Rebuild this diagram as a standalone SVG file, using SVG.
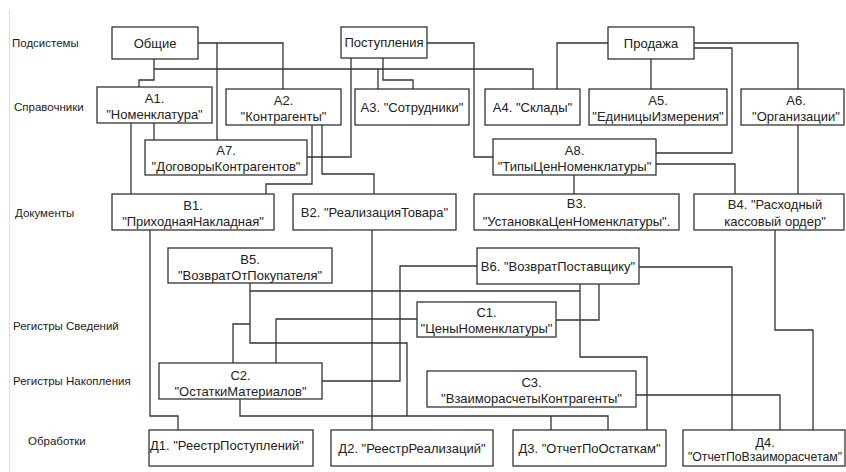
<svg xmlns="http://www.w3.org/2000/svg" width="846" height="472" viewBox="0 0 846 472">
<style>
.b{fill:#fff;stroke:#333;stroke-width:1.3}
.t{font-family:"Liberation Sans",Arial,sans-serif;font-size:13px;fill:#222;text-anchor:middle}
.l{font-family:"Liberation Sans",Arial,sans-serif;font-size:11.5px;fill:#222}
.c{fill:none;stroke:#333;stroke-width:1.3}
</style>
<rect width="846" height="472" fill="#fff"/>
<line x1="9.5" y1="10" x2="9.5" y2="472" stroke="#ddd" stroke-width="1"/>
<g id="labels">
<text class="l" x="12" y="47">Подсистемы</text>
<text class="l" x="14" y="111">Справочники</text>
<text class="l" x="15" y="217">Документы</text>
<text class="l" x="13" y="330">Регистры Сведений</text>
<text class="l" x="13" y="385">Регистры Накопления</text>
<text class="l" x="28" y="445">Обработки</text>
</g>
<g id="connectors">
<path class="c" d="M154,59 V80 H139 V87"/>
<path class="c" d="M154,69 H533 V89 M378,69 V89"/>
<path class="c" d="M198,43 H283 V89"/>
<path class="c" d="M217,43 V140"/>
<path class="c" d="M154,123 V140"/>
<path class="c" d="M131,123 V194"/>
<path class="c" d="M312,125 V184 H266 V194"/>
<path class="c" d="M322,125 V174 H374 V194"/>
<path class="c" d="M351,58 V157 H307"/>
<path class="c" d="M383,58 V80 H413 V89"/>
<path class="c" d="M427,43 H474 V157 H493"/>
<path class="c" d="M608,43 H557 V89"/>
<path class="c" d="M651,59 V89"/>
<path class="c" d="M694,43 H798 V89"/>
<path class="c" d="M694,48 H732 V153 H656"/>
<path class="c" d="M574,175 V194"/>
<path class="c" d="M656,164 H735 V194"/>
<path class="c" d="M798,125 V194"/>
<path class="c" d="M150,230 V416 H178 V430"/>
<path class="c" d="M372,230 V430"/>
<path class="c" d="M775,230 V330 H813 V430"/>
<path class="c" d="M250,283 V343 H407 V416 M250,291 H580"/>
<path class="c" d="M580,284 V357 H647 V430"/>
<path class="c" d="M599,284 V320 H556"/>
<path class="c" d="M477,266 H400 V381 H322"/>
<path class="c" d="M639,267 H732 V430"/>
<path class="c" d="M417,319 H276 V363"/>
<path class="c" d="M233,363 V324 H250"/>
<path class="c" d="M240,399 V416 H608 V430 M551,416 V430"/>
<path class="c" d="M636,395 H780 V430"/>
</g>
<g id="obshie"><rect class="b" x="112" y="27" width="86" height="32"/><text class="t" x="155" y="48">Общие</text></g>
<g id="postupleniya"><rect class="b" x="341" y="27" width="86" height="31"/><text class="t" x="384" y="47">Поступления</text></g>
<g id="prodazha"><rect class="b" x="608" y="27" width="86" height="32"/><text class="t" x="651" y="48">Продажа</text></g>
<g id="A1"><rect class="b" x="97" y="87" width="115" height="36"/><text class="t" x="154.5" y="103">A1.</text><text class="t" x="154.5" y="119">"Номенклатура"</text></g>
<g id="A2"><rect class="b" x="226" y="89" width="115" height="36"/><text class="t" x="283.5" y="105">A2.</text><text class="t" x="283.5" y="121">"Контрагенты"</text></g>
<g id="A3"><rect class="b" x="355" y="89" width="114" height="36"/><text class="t" x="412" y="112">A3. "Сотрудники"</text></g>
<g id="A4"><rect class="b" x="485" y="89" width="95" height="36"/><text class="t" x="532.5" y="112">A4. "Склады"</text></g>
<g id="A5"><rect class="b" x="589" y="89" width="138" height="36"/><text class="t" x="658" y="105">A5.</text><text class="t" x="658" y="121">"ЕдиницыИзмерения"</text></g>
<g id="A6"><rect class="b" x="741" y="89" width="103" height="36"/><text class="t" x="796" y="105">A6.</text><text class="t" x="796" y="121">"Организации"</text></g>
<g id="A7"><rect class="b" x="145" y="140" width="162" height="35"/><text class="t" x="226" y="155">A7.</text><text class="t" x="226" y="171">"ДоговорыКонтрагентов"</text></g>
<g id="A8"><rect class="b" x="493" y="139" width="163" height="36"/><text class="t" x="574.5" y="155">A8.</text><text class="t" x="574.5" y="171">"ТипыЦенНоменклатуры"</text></g>
<g id="B1"><rect class="b" x="112" y="194" width="162" height="36"/><text class="t" x="193" y="210">B1.</text><text class="t" x="193" y="226">"ПриходнаяНакладная"</text></g>
<g id="B2"><rect class="b" x="293" y="194" width="163" height="36"/><text class="t" x="374.5" y="217">B2. "РеализацияТовара"</text></g>
<g id="B3"><rect class="b" x="474" y="194" width="205" height="36"/><text class="t" x="576.5" y="208">B3.</text><text class="t" x="576.5" y="226">"УстановкаЦенНоменклатуры".</text></g>
<g id="B4"><rect class="b" x="694" y="194" width="150" height="36"/><text class="t" x="775" y="209">B4. "Расходный</text><text class="t" x="775" y="226">кассовый ордер"</text></g>
<g id="B5"><rect class="b" x="168" y="248" width="164" height="35"/><text class="t" x="250" y="264">B5.</text><text class="t" x="250" y="280">"ВозвратОтПокупателя"</text></g>
<g id="B6"><rect class="b" x="477" y="248" width="162" height="36"/><text class="t" x="558" y="271">B6. "ВозвратПоставщику"</text></g>
<g id="C1"><rect class="b" x="417" y="302" width="139" height="35"/><text class="t" x="486.5" y="317">C1.</text><text class="t" x="486.5" y="333">"ЦеныНоменклатуры"</text></g>
<g id="C2"><rect class="b" x="159" y="363" width="163" height="36"/><text class="t" x="240.5" y="380">C2.</text><text class="t" x="240.5" y="396">"ОстаткиМатериалов"</text></g>
<g id="C3"><rect class="b" x="427" y="371" width="209" height="36"/><text class="t" x="531.5" y="387">C3.</text><text class="t" x="531.5" y="403">"ВзаиморасчетыКонтрагенты"</text></g>
<g id="D1"><rect class="b" x="149" y="430" width="164" height="36"/><text class="t" x="150" y="450" style="text-anchor:start">Д1. "РеестрПоступлений"</text></g>
<g id="D2"><rect class="b" x="331" y="430" width="162" height="36"/><text class="t" x="412" y="453">Д2. "РеестрРеализаций"</text></g>
<g id="D3"><rect class="b" x="513" y="430" width="153" height="36"/><text class="t" x="589.5" y="453">Д3. "ОтчетПоОстаткам"</text></g>
<g id="D4"><rect class="b" x="683" y="430" width="162" height="36"/><text class="t" x="765" y="447">Д4.</text><text class="t" x="765" y="461" style="font-size:12.3px">"ОтчетПоВзаиморасчетам"</text></g>
</svg>
